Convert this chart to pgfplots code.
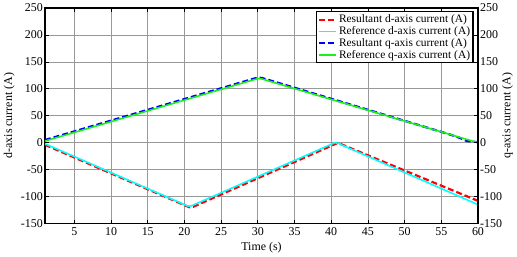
\documentclass[border=0pt]{standalone}
\usepackage{fontspec}
\setmainfont{Liberation Serif}
\usepackage{pgfplots}
\pgfplotsset{compat=1.18}
\definecolor{cy}{rgb}{0,1,1}
\definecolor{gr}{rgb}{0.1,0.95,0.1}
\begin{document}
\fontsize{12}{14}\selectfont
\begin{tikzpicture}
\begin{axis}[
  scale only axis, width=434bp, height=216bp,
  xmin=1, xmax=60, ymin=-150, ymax=250,
  xtick={5,10,...,60}, ytick={-150,-100,...,250},
  grid=major, grid style={gray!80, line width=0.7pt},
  axis line style={line width=1.2pt},
  tick align=inside, major tick length=4pt,
  tick style={black, line width=0.7pt},
  /pgf/number format/assume math mode=true,
  ticklabel style={font=\fontsize{12}{14}\selectfont},
  yticklabel style={xshift=2pt},
  xlabel={Time (s)}, ylabel={d-axis current (A)},
  label style={font=\fontsize{12}{14}\selectfont},
  xlabel style={yshift=2pt}, ylabel style={yshift=-2pt},
  legend style={at={(rel axis cs:0.99,0.985)}, anchor=north east,
    draw=black, line width=1.2pt, font=\fontsize{11.5}{13}\selectfont,
    inner sep=1pt, row sep=-2pt},
  legend cell align=left,
]
\addplot[red, line width=2.2pt, dash pattern=on 6pt off 3pt] coordinates {(1,-4) (20.7,-120) (21.2,-119) (40.8,-1) (41.2,-2) (60,-108)};
\addlegendentry{Resultant d-axis current (A)}
\addplot[cy, line width=1.6pt] coordinates {(1,-2) (20.5,-118) (21,-117) (40.5,0) (40.9,-1) (60,-115)};
\addlegendentry{Reference d-axis current (A)}
\addplot[blue, line width=2.2pt, dash pattern=on 6pt off 3pt] coordinates {(1,5) (30,121) (30.6,120) (56,16) (57.5,9) (58.5,3) (60,1)};
\addlegendentry{Resultant q-axis current (A)}
\addplot[gr, line width=1.6pt] coordinates {(1,3) (30,119) (30.5,118.5) (60,0)};
\addlegendentry{Reference q-axis current (A)}
\end{axis}
\begin{axis}[
  scale only axis, width=434bp, height=216bp,
  xmin=1, xmax=60, ymin=-150, ymax=250,
  axis x line=none, axis y line*=right,
  ytick={-150,-100,...,250},
  axis line style={line width=1.2pt},
  tick align=inside, major tick length=4pt,
  tick style={black, line width=0.7pt},
  /pgf/number format/assume math mode=true,
  ticklabel style={font=\fontsize{12}{14}\selectfont},
  yticklabel style={xshift=-2pt},
  ylabel={q-axis current (A)},
  label style={font=\fontsize{12}{14}\selectfont},
  ylabel style={yshift=8pt},
]
\end{axis}
\end{tikzpicture}
\end{document}
